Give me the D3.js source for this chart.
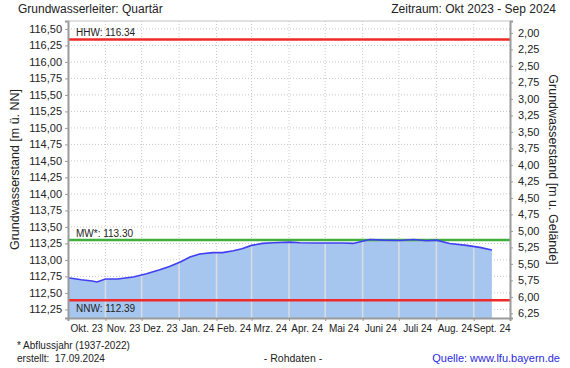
<!DOCTYPE html>
<html>
<head>
<meta charset="utf-8">
<script src="https://cdn.jsdelivr.net/npm/d3@7"></script>
<style>
  body { margin: 0; background: #fff; }
  svg { font-family: "Liberation Sans", Arial, sans-serif; }
</style>
</head>
<body>
<div id="chart"></div>
<script>
var dates = [
  "2023-10-01", "2023-10-12", "2023-10-21", "2023-10-25", "2023-11-01", "2023-11-11",
  "2023-11-24", "2023-12-05", "2023-12-16", "2023-12-24", "2024-01-02", "2024-01-10",
  "2024-01-18", "2024-01-29", "2024-02-06", "2024-02-15", "2024-02-22", "2024-03-01",
  "2024-03-10", "2024-03-19", "2024-04-02", "2024-04-10", "2024-04-24", "2024-05-02",
  "2024-05-16", "2024-05-24", "2024-05-31", "2024-06-07", "2024-06-18", "2024-07-02",
  "2024-07-13", "2024-07-24", "2024-08-01", "2024-08-12", "2024-08-26", "2024-09-06",
  "2024-09-16"
];
var levels = [
  112.73, 112.70, 112.68, 112.665, 112.71, 112.71,
  112.74, 112.79, 112.85, 112.90, 112.97, 113.045,
  113.09, 113.11, 113.11, 113.14, 113.17, 113.22,
  113.25, 113.26, 113.27, 113.26, 113.257, 113.257,
  113.257, 113.25, 113.28, 113.31, 113.30, 113.295,
  113.31, 113.29, 113.30, 113.25, 113.22, 113.19,
  113.15
];
var monthStarts = [
  "2023-10-01", "2023-11-01", "2023-12-01", "2024-01-01", "2024-02-01", "2024-03-01",
  "2024-04-01", "2024-05-01", "2024-06-01", "2024-07-01", "2024-08-01", "2024-09-01",
  "2024-10-01"
];
var monthLabels = [
  "Okt. 23", "Nov. 23", "Dez. 23", "Jan. 24", "Feb. 24", "Mrz. 24",
  "Apr. 24", "Mai 24", "Juni 24", "Juli 24", "Aug. 24", "Sept. 24"
];
var leftTicks = [
  112.25, 112.5, 112.75, 113, 113.25, 113.5, 113.75, 114, 114.25,
  114.5, 114.75, 115, 115.25, 115.5, 115.75, 116, 116.25, 116.5
];
var rightTicks = [
  2, 2.25, 2.5, 2.75, 3, 3.25, 3.5, 3.75, 4, 4.25,
  4.5, 4.75, 5, 5.25, 5.5, 5.75, 6, 6.25
];
var refNames = ["HHW", "MW*", "NNW"];
var refValues = [116.34, 113.30, 112.39];
var groundLevel = 118.44;

var parse = d3.timeParse("%Y-%m-%d");
var data = dates.map((d, i) => ({ date: parse(d), level: levels[i] }));
var months = monthStarts.map(parse);

var W = 570, H = 368;
var plot = { left: 68, right: 510, top: 21, bottom: 318 };
var yDomain = [112.12, 116.62];

var svg = d3.select("#chart").append("svg")
  .attr("width", W).attr("height", H);

var x = d3.scaleTime()
  .domain([months[0], months[months.length - 1]])
  .range([plot.left, plot.right]);
var y = d3.scaleLinear().domain(yDomain).range([plot.bottom, plot.top]);
var yDepth = d3.scaleLinear()
  .domain([groundLevel - yDomain[0], groundLevel - yDomain[1]])
  .range([plot.bottom, plot.top]);

var comma = (v) => d3.format(".2f")(v).replace(".", ",");
var grid_color = "#c8c8c8";
var fill_color = "#a6c6f0";
var line_color = "#4040f0";
var ref_colors = ["#ee2a2a", "#3fae3f", "#ee2a2a"];

// dotted grid
svg.append("g").selectAll("line").data(leftTicks).enter().append("line")
  .attr("x1", plot.left).attr("x2", plot.right)
  .attr("y1", (d) => y(d)).attr("y2", (d) => y(d))
  .attr("stroke", grid_color).attr("stroke-dasharray", "1,2");
svg.append("g").selectAll("line").data(months.slice(1, -1)).enter().append("line")
  .attr("x1", (d) => x(d)).attr("x2", (d) => x(d))
  .attr("y1", plot.top).attr("y2", plot.bottom)
  .attr("stroke", grid_color).attr("stroke-dasharray", "1,2");

// area
var area = d3.area()
  .x((d) => x(d.date))
  .y0(plot.bottom)
  .y1((d) => y(d.level));
svg.append("clipPath").attr("id", "areaclip")
  .append("path").attr("d", area(data));
svg.append("path").attr("d", area(data)).attr("fill", fill_color);

// solid light month lines inside the area
svg.append("g").attr("clip-path", "url(#areaclip)")
  .selectAll("line").data(months.slice(1, -1)).enter().append("line")
  .attr("x1", (d) => x(d)).attr("x2", (d) => x(d))
  .attr("y1", plot.top).attr("y2", plot.bottom)
  .attr("stroke", "#d6dbe4").attr("stroke-width", 1.6);

// reference lines
svg.append("g").selectAll("line").data(refValues).enter().append("line")
  .attr("x1", plot.left).attr("x2", plot.right)
  .attr("y1", (d) => y(d)).attr("y2", (d) => y(d))
  .attr("stroke", (d, i) => ref_colors[i]).attr("stroke-width", 2.5);

// data line
svg.append("path")
  .attr("d", d3.line().x((d) => x(d.date)).y((d) => y(d.level))(data))
  .attr("fill", "none").attr("stroke", line_color).attr("stroke-width", 1.6);

// reference labels
svg.append("g").selectAll("text").data(refValues).enter().append("text")
  .attr("x", plot.left + 8)
  .attr("y", (d, i) => (i == 2 ? y(d) + 12 : y(d) - 3))
  .attr("font-size", 10).attr("fill", "#222")
  .text((d, i) => `${refNames[i]}: ${d3.format(".2f")(d)}`);

// axes
var left = svg.append("g")
  .attr("transform", `translate(${plot.left},0)`)
  .call(d3.axisLeft(y).tickValues(leftTicks).tickSize(3).tickPadding(3).tickFormat(comma));
var right = svg.append("g")
  .attr("transform", `translate(${plot.right},0)`)
  .call(d3.axisRight(yDepth).tickValues(rightTicks).tickSize(3).tickPadding(5).tickFormat(comma));
var bottom = svg.append("g")
  .attr("transform", `translate(0,${plot.bottom})`)
  .call(d3.axisBottom(x).tickValues(months).tickSize(3).tickFormat(""));

[left, right, bottom].forEach((g) => {
  g.select(".domain").attr("stroke", "#9a9a9a").attr("stroke-width", 2);
  g.selectAll(".tick line").attr("stroke", "#9a9a9a");
  g.selectAll(".tick text").attr("font-size", 11).attr("fill", "#222")
    .attr("font-family", null);
});
svg.append("line")
  .attr("x1", plot.left).attr("x2", plot.right)
  .attr("y1", plot.top).attr("y2", plot.top)
  .attr("stroke", "#c4c4c4");

// month labels centred in each month
svg.append("g").selectAll("text").data(monthLabels).enter().append("text")
  .attr("x", (d, i) => (x(months[i]) + x(months[i + 1])) / 2)
  .attr("y", 332)
  .attr("text-anchor", "middle")
  .attr("font-size", 10).attr("fill", "#222")
  .text((d) => d);

// titles
svg.append("text").attr("x", 18).attr("y", 13)
  .attr("font-size", 12).attr("fill", "#222")
  .text("Grundwasserleiter: Quartär");
svg.append("text").attr("x", 556).attr("y", 13)
  .attr("font-size", 12).attr("fill", "#222").attr("text-anchor", "end")
  .text("Zeitraum: Okt 2023 - Sep 2024");
svg.append("text")
  .attr("transform", `translate(19,${(plot.top + plot.bottom) / 2}) rotate(-90)`)
  .attr("text-anchor", "middle").attr("font-size", 12.5).attr("fill", "#222")
  .text("Grundwasserstand [m ü. NN]");
svg.append("text")
  .attr("transform", `translate(549,${(plot.top + plot.bottom) / 2}) rotate(90)`)
  .attr("text-anchor", "middle").attr("font-size", 12.5).attr("fill", "#222")
  .text("Grundwasserstand [m u. Gelände]");

// footer
svg.append("text").attr("x", 17).attr("y", 349)
  .attr("font-size", 10).attr("fill", "#222")
  .text("* Abflussjahr (1937-2022)");
svg.append("text").attr("x", 17).attr("y", 362)
  .attr("font-size", 10).attr("fill", "#222").attr("xml:space", "preserve")
  .text("erstellt:  17.09.2024");
svg.append("text").attr("x", 293).attr("y", 362)
  .attr("font-size", 10.5).attr("fill", "#222").attr("text-anchor", "middle")
  .text("- Rohdaten -");
svg.append("text").attr("x", 560).attr("y", 362)
  .attr("font-size", 11).attr("fill", "#2a2ae0").attr("text-anchor", "end")
  .text("Quelle: www.lfu.bayern.de");
</script>
</body>
</html>
